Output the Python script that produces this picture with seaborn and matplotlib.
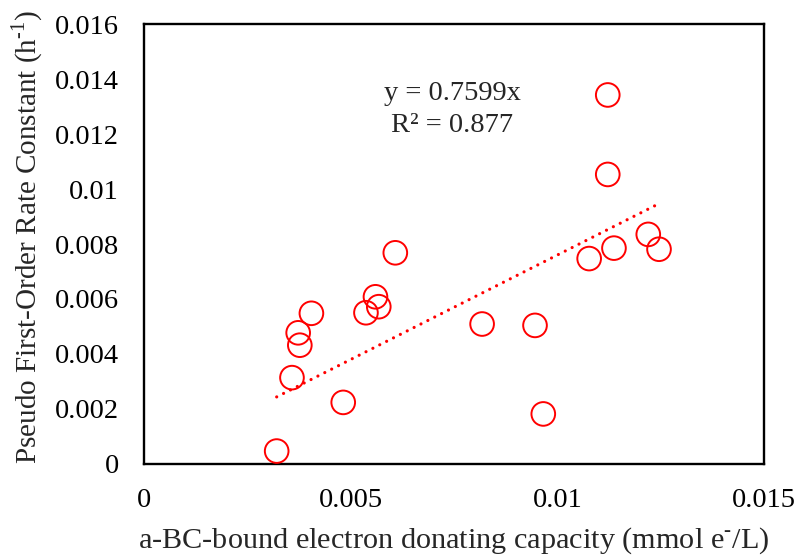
import numpy as np
import pandas as pd
import matplotlib
matplotlib.use("Agg")
import matplotlib.pyplot as plt
from matplotlib.ticker import FuncFormatter
import seaborn as sns

# Bound electron donating capacity (mmol e-/L) vs. pseudo first-order rate constant (1/h)
edc = [0.00321, 0.00358, 0.00373, 0.00377, 0.00405, 0.00482, 0.00537, 0.00560,
       0.00568, 0.00608, 0.00818, 0.00946, 0.00966, 0.01077, 0.01122, 0.01122,
       0.01137, 0.01220, 0.01246]
rate_k = [0.00047, 0.00314, 0.00477, 0.00432, 0.00548, 0.00224, 0.00550, 0.00608,
          0.00572, 0.00768, 0.00509, 0.00504, 0.00182, 0.00747, 0.01342, 0.01053,
          0.00785, 0.00835, 0.00781]

# Linear fit through the origin
slope = 0.7599
r_squared = 0.877

x_ticks = [0, 0.005, 0.01, 0.015]
y_ticks = [0, 0.002, 0.004, 0.006, 0.008, 0.01, 0.012, 0.014, 0.016]

df = pd.DataFrame({"edc": edc, "k": rate_k})

sns.set_style("white")
plt.rcParams["font.family"] = ["Liberation Serif", "DejaVu Serif"]
plt.rcParams["mathtext.fontset"] = "custom"
plt.rcParams["mathtext.rm"] = "Liberation Serif"

fig = plt.figure(figsize=(8, 5.56), dpi=100)
ax = fig.add_axes([0.18, 0.1655, 0.775, 0.7913])

sns.scatterplot(data=df, x="edc", y="k", ax=ax, marker="o", s=290,
                facecolor="none", edgecolor="#ff0000", linewidth=1.4, zorder=3)

# Trendline across the observed range
fit_x = np.array([min(edc), max(edc)])
sns.lineplot(x=fit_x, y=slope * fit_x, ax=ax, color="#ff0000", linewidth=2.3,
             linestyle=(0, (0.01, 2.4)), dash_capstyle="round", zorder=2)

ax.text(0.497, 0.805, f"y = {slope}x\nR² = {r_squared}", transform=ax.transAxes,
        ha="center", va="center", fontsize=20.5, linespacing=1.38)

ax.set_xlim(x_ticks[0], x_ticks[-1])
ax.set_ylim(y_ticks[0], y_ticks[-1])
ax.set_xticks(x_ticks)
ax.set_yticks(y_ticks)
fmt = FuncFormatter(lambda v, p: "0" if v == 0 else f"{v:g}")
ax.xaxis.set_major_formatter(fmt)
ax.yaxis.set_major_formatter(fmt)

ax.tick_params(axis="both", direction="in", length=6.5, width=1.6,
               labelsize=20.5, colors="black")
ax.tick_params(axis="y", pad=18)
ax.tick_params(axis="x", pad=17)

for side in ["left", "bottom", "right", "top"]:
    ax.spines[side].set_visible(True)
    ax.spines[side].set_color("black")
    ax.spines[side].set_linewidth(1.7)

ax.set_xlabel(r"a-BC-bound electron donating capacity (mmol e$^{\text{-}}$/L)",
              fontsize=21.8, labelpad=9)
ax.set_ylabel(r"Pseudo First-Order Rate Constant (h$^{\text{-1}}$)",
              fontsize=21, labelpad=7)
ax.yaxis.label.set_y(0.516)

fig.savefig("out.png", dpi=100, facecolor="white")
